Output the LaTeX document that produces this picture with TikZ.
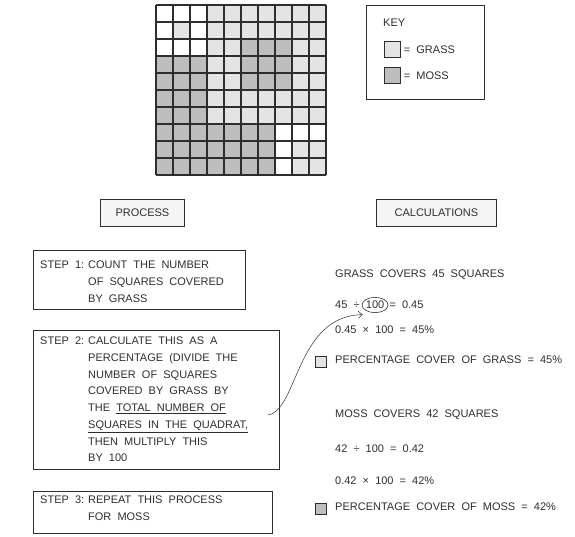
\documentclass[tikz,border=0pt]{standalone}
\usepackage{fontspec}
\usepackage{xcolor}
\usepackage{tikz}
\usetikzlibrary{positioning,shapes.geometric,arrows.meta}

\newfontfamily\handfont[WordSpace=2]{Liberation Sans}
\definecolor{grasscol}{HTML}{E4E4E4}
\definecolor{mosscol}{HTML}{BEBEBE}
\definecolor{inkcol}{HTML}{2E2E2E}

\tikzset{
  hand/.style={font=\handfont\fontsize{11}{16.7}\selectfont, text=inkcol, inner sep=0pt},
  txt/.style={hand, anchor=west},
  para/.style={hand, anchor=north west, align=left},
  boxed/.style={draw=inkcol, line width=0.8pt, anchor=north west, inner sep=0pt},
  headbox/.style={boxed, fill=black!4},
  swatch/.style={draw=inkcol, line width=0.7pt, inner sep=0pt},
  pointer/.style={-{Straight Barb[length=4pt,width=7pt]}, draw=inkcol, line width=0.5pt}
}

\begin{document}
\begin{tikzpicture}[x=1pt, y=-1pt]
  \useasboundingbox (0,0) rectangle (575,537);

  % The quadrat: 10 x 10 squares
  \begin{scope}[shift={(156,5)}, x=17pt, y=-17pt]
    \fill[grasscol] (0,0) rectangle (10,10);
    \fill[white] (0,0) rectangle (3,3);
    \fill[grasscol] (1,1) rectangle (2,2);
    \fill[white] (7,7) rectangle (10,8);
    \fill[white] (7,8) rectangle (8,10);
    \fill[mosscol] (0,3) rectangle (3,10);
    \fill[mosscol] (3,7) rectangle (7,10);
    \fill[mosscol] (5,2) rectangle (8,5);
    \foreach \i in {0,...,10} {
      \draw[inkcol, line width=1.3pt] (\i,0) -- (\i,10);
      \draw[inkcol, line width=1.3pt] (0,\i) -- (10,\i);
    }
  \end{scope}

  % Key
  \node[boxed, minimum width=118pt, minimum height=94pt] (keybox) at (366,5) {};
  \node[txt] (keyhead) at (383,23) {KEY};
  \node[swatch, fill=grasscol, minimum size=16pt, anchor=north west] (keygrass) at (384,41) {};
  \node[txt, right=3pt of keygrass] (keygrasstxt) {= GRASS};
  \node[swatch, fill=mosscol, minimum size=16pt, anchor=north west] (keymoss) at (384,67) {};
  \node[txt, right=3pt of keymoss] (keymosstxt) {= MOSS};

  % Column headings
  \node[headbox, hand, minimum width=84pt, minimum height=27pt] (process) at (100,199) {PROCESS};
  \node[headbox, hand, minimum width=120pt, minimum height=27pt] (calcs) at (376,199) {CALCULATIONS};

  % Steps
  \node[boxed, minimum width=212pt, minimum height=59pt] (step1) at (33,250) {};
  \node[txt] (step1lbl) at (40,265) {STEP 1:};
  \node[para] (step1txt) at (88,261) {COUNT THE NUMBER\\OF SQUARES COVERED\\BY GRASS};

  \node[boxed, minimum width=246pt, minimum height=139pt] (step2) at (33,330) {};
  \node[txt] (step2lbl) at (40,341) {STEP 2:};
  \node[para] (step2txt) at (88,337) {CALCULATE THIS AS A\\PERCENTAGE (DIVIDE THE\\NUMBER OF SQUARES\\COVERED BY GRASS BY\\THE \underline{TOTAL NUMBER OF}\\\underline{SQUARES IN THE QUADRAT,}\\THEN MULTIPLY THIS\\BY 100};

  \node[boxed, minimum width=239pt, minimum height=42pt] (step3) at (33,491) {};
  \node[txt] (step3lbl) at (40,500) {STEP 3:};
  \node[para] (step3txt) at (88,496) {REPEAT THIS PROCESS\\FOR MOSS};

  % Calculations for grass
  \node[txt] (grasscount) at (335,275) {GRASS COVERS 45 SQUARES};
  \node[txt] (gdiv) at (335,305) {45 ÷};
  \node[draw=inkcol, ellipse, line width=0.6pt, hand, inner xsep=0pt, inner ysep=1.5pt, right=2pt of gdiv] (c100) {100};
  \node[txt, right=1pt of c100] (gdivres) {= 0.45};
  \node[txt] (gmul) at (335,330) {0.45 × 100 = 45\%};
  \node[swatch, fill=grasscol, minimum size=11pt] (gkey) at (320.5,361.5) {};
  \node[txt] (gpct) at (335,360) {PERCENTAGE COVER OF GRASS = 45\%};

  % Calculations for moss
  \node[txt] (mosscount) at (335,415) {MOSS COVERS 42 SQUARES};
  \node[txt] (mdiv) at (335,449) {42 ÷ 100 = 0.42};
  \node[txt] (mmul) at (335,481) {0.42 × 100 = 42\%};
  \node[swatch, fill=mosscol, minimum size=11pt] (mkey) at (320.5,508.5) {};
  \node[txt] (mpct) at (335,507) {PERCENTAGE COVER OF MOSS = 42\%};

  % Link from the total to the divisor
  \coordinate (ofend) at (268,415);
  \draw[pointer] (ofend) .. controls (298,410) and (296,316) .. ([shift={(-3,4)}]c100.south west);
\end{tikzpicture}
\end{document}
